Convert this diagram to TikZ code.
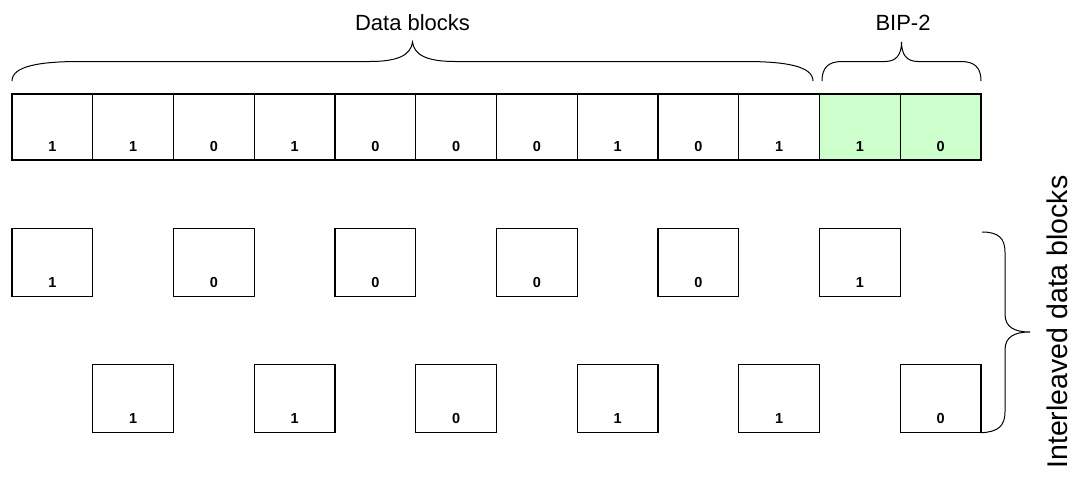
\documentclass[tikz,border=0pt]{standalone}
\usepackage{fontspec}
\setmainfont{Liberation Sans}
\definecolor{bipgreen}{HTML}{CCFFCC}
\begin{document}
\begin{tikzpicture}[x=1pt,y=-1pt,
  cell/.style={draw=black, line width=1.3pt, minimum width=80.75pt, minimum height=66pt, inner sep=0pt, outer sep=0pt},
  ibox/.style={cell, minimum height=68.5pt},
  digit/.style={font=\fontsize{14.5}{15}\selectfont\bfseries, inner sep=0pt, anchor=base},
  lbl/.style={font=\fontsize{22}{24}\selectfont, inner sep=0pt, anchor=base},
  bracepath/.style={draw=black, line width=1pt}]
\useasboundingbox (0,0) rectangle (1073,479);
% top row
\foreach \v [count=\i from 0] in {1,1,0,1,0,0,0,1,0,1,1,0} {
  \pgfmathsetmacro\cx{12+(\i+0.5)*80.75}
  \ifnum\i>9 \def\fillc{bipgreen}\else\def\fillc{white}\fi
  \node[cell, fill=\fillc] (t\i) at (\cx,127) {};
  \node[digit] (tv\i) at ([yshift=9pt]t\i.south) {\v};
}
% interleaved row 1 (even columns)
\foreach \v [count=\i from 0] in {1,0,0,0,0,1} {
  \pgfmathsetmacro\cx{12+(2*\i+0.5)*80.75}
  \node[ibox] (a\i) at (\cx,262.5) {};
  \node[digit] (av\i) at ([yshift=9.4pt]a\i.south) {\v};
}
% interleaved row 2 (odd columns)
\foreach \v [count=\i from 0] in {1,1,0,1,1,0} {
  \pgfmathsetmacro\cx{12+(2*\i+1.5)*80.75}
  \node[ibox] (b\i) at (\cx,398.5) {};
  \node[digit] (bv\i) at ([yshift=9pt]b\i.south) {\v};
}
% labels
\node[lbl] (dlabel) at (412.5,30) {Data blocks};
\node[lbl] (biplabel) at (903,30) {BIP-2};
\node[font=\fontsize{28.5}{30}\selectfont, inner sep=0pt, anchor=base, rotate=90] (ilabel) at (1067.5,322) {Interleaved data blocks};
% braces
\draw[bracepath] (12,81) .. controls (12,66) and (40,61.5) .. (80,61.5) -- (370,61.5)
  .. controls (398,61.5) and (411,55) .. (412.5,42)
  .. controls (414,55) and (427,61.5) .. (455,61.5) -- (745,61.5)
  .. controls (785,61.5) and (813,66) .. (813,81);
\draw[bracepath] (822,81) .. controls (822,68) and (828,61.5) .. (842,61.5) -- (885,61.5)
  .. controls (896,61.5) and (901.5,55) .. (901.5,42)
  .. controls (901.5,55) and (907,61.5) .. (918,61.5) -- (961,61.5)
  .. controls (975,61.5) and (981,68) .. (981,81);
\coordinate (rtop) at (982,232);
\draw[bracepath] (rtop) .. controls (998,232) and (1005,238) .. (1005,252) -- (1005,314)
  .. controls (1005,327) and (1014,332) .. (1030,332)
  .. controls (1014,332) and (1005,337) .. (1005,350) -- (1005,412)
  .. controls (1005,426) and (998,432) .. (b5.south east);
\end{tikzpicture}
\end{document}
